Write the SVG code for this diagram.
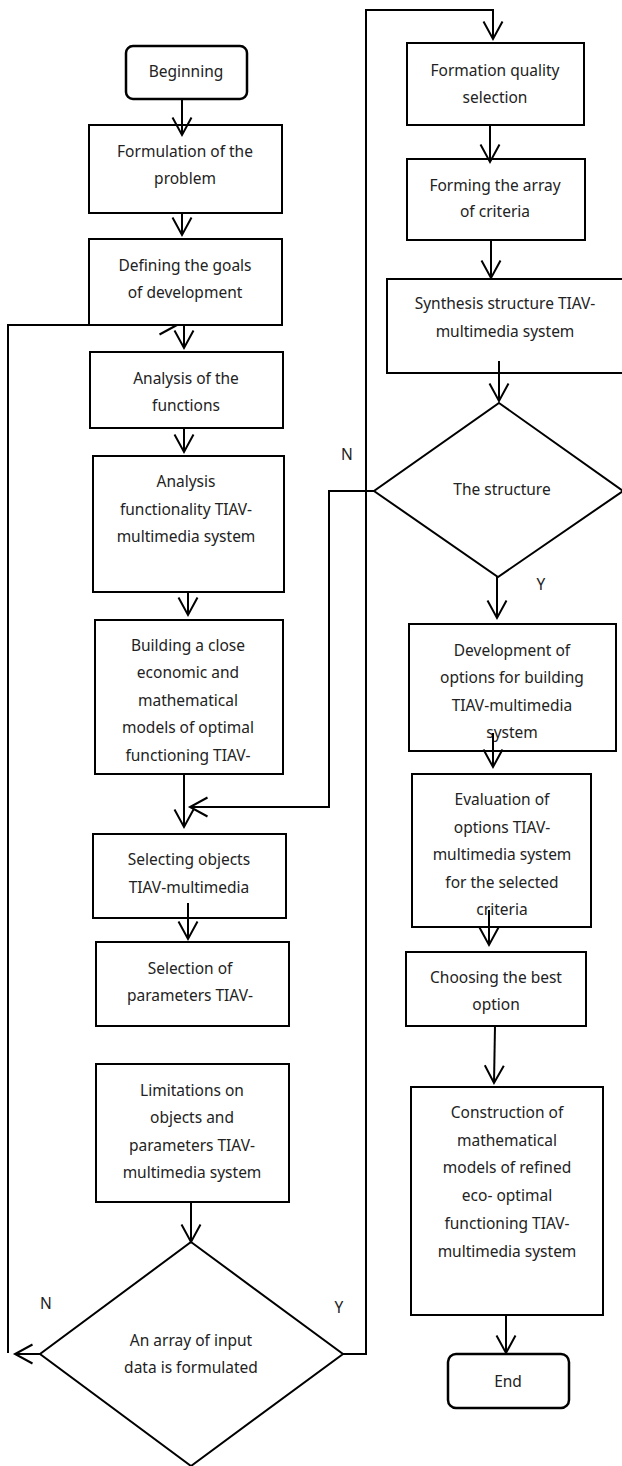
<svg xmlns="http://www.w3.org/2000/svg" width="622" height="1466" viewBox="0 0 622 1466">
<style>
.box{fill:#fff;stroke:#000;stroke-width:2}
.term{fill:#fff;stroke:#000;stroke-width:2.5}
.lbl{font-family:"Noto Sans","Liberation Sans",sans-serif;font-size:15.5px;fill:#222;text-anchor:middle}
.con{fill:none;stroke:#000;stroke-width:2}
</style>
<defs>
<marker id="arr" markerUnits="userSpaceOnUse" viewBox="-20 -12 22 24" markerWidth="22" markerHeight="24" refX="0" refY="0" orient="auto" overflow="visible">
<path d="M-17.5,-9.5 L0,0 L-17.5,9.5" fill="none" stroke="#000" stroke-width="2"/>
</marker>
</defs>
<rect width="622" height="1466" fill="#fff"/>

<g id="n-begin"><rect class="term" x="126" y="46" width="121" height="53" rx="7"/><text class="lbl" x="186" y="77">Beginning</text></g>
<g id="n-formulation"><rect class="box" x="89" y="125" width="193" height="88"/><text class="lbl"><tspan x="185" y="157">Formulation of the</tspan><tspan x="185" y="184">problem</tspan></text></g>
<g id="n-defining"><rect class="box" x="89" y="239" width="193" height="86"/><text class="lbl"><tspan x="185" y="271">Defining the goals</tspan><tspan x="185" y="298">of development</tspan></text></g>
<g id="n-analysis-func"><rect class="box" x="90" y="352" width="193" height="76"/><text class="lbl"><tspan x="186" y="384">Analysis of the</tspan><tspan x="186" y="411">functions</tspan></text></g>
<g id="n-functionality"><rect class="box" x="93" y="456" width="191" height="136"/><text class="lbl"><tspan x="186" y="487">Analysis</tspan><tspan x="186" y="515">functionality TIAV-</tspan><tspan x="186" y="542">multimedia system</tspan></text></g>
<g id="n-building"><rect class="box" x="95" y="620" width="188" height="154"/><text class="lbl"><tspan x="188" y="651">Building a close</tspan><tspan x="188" y="678">economic and</tspan><tspan x="188" y="706">mathematical</tspan><tspan x="188" y="733">models of optimal</tspan><tspan x="188" y="761">functioning TIAV-</tspan></text></g>
<g id="n-selecting"><rect class="box" x="93" y="834" width="193" height="84"/><text class="lbl"><tspan x="189" y="865">Selecting objects</tspan><tspan x="189" y="893">TIAV-multimedia</tspan></text></g>
<g id="n-selection"><rect class="box" x="96" y="942" width="193" height="84"/><text class="lbl"><tspan x="190" y="974">Selection of</tspan><tspan x="190" y="1001">parameters TIAV-</tspan></text></g>
<g id="n-limitations"><rect class="box" x="96" y="1064" width="193" height="138"/><text class="lbl"><tspan x="192" y="1096">Limitations on</tspan><tspan x="192" y="1123">objects and</tspan><tspan x="192" y="1151">parameters TIAV-</tspan><tspan x="192" y="1178">multimedia system</tspan></text></g>
<g id="n-input-dec"><polygon class="box" points="191,1242 343,1354 191,1466 40,1354"/><text class="lbl"><tspan x="191" y="1346">An array of input</tspan><tspan x="191" y="1373">data is formulated</tspan></text></g>

<g id="n-formation"><rect class="box" x="407" y="43" width="177" height="82"/><text class="lbl"><tspan x="495" y="76">Formation quality</tspan><tspan x="495" y="103">selection</tspan></text></g>
<g id="n-forming"><rect class="box" x="407" y="159" width="178" height="81"/><text class="lbl"><tspan x="495" y="191">Forming the array</tspan><tspan x="495" y="217">of criteria</tspan></text></g>
<g id="n-synthesis"><rect class="box" x="387" y="279" width="245" height="94"/><text class="lbl"><tspan x="505" y="309">Synthesis structure TIAV-</tspan><tspan x="505" y="337">multimedia system</tspan></text></g>
<g id="n-structure-dec"><polygon class="box" points="499,403 623,491 498,577 374,491"/><text class="lbl" x="502" y="495">The structure</text></g>
<g id="n-development"><rect class="box" x="409" y="624" width="207" height="127"/><text class="lbl"><tspan x="512" y="656">Development of</tspan><tspan x="512" y="683">options for building</tspan><tspan x="512" y="711">TIAV-multimedia</tspan><tspan x="512" y="738">system</tspan></text></g>
<g id="n-evaluation"><rect class="box" x="412" y="774" width="179" height="153"/><text class="lbl"><tspan x="502" y="805">Evaluation of</tspan><tspan x="502" y="833">options TIAV-</tspan><tspan x="502" y="860">multimedia system</tspan><tspan x="502" y="888">for the selected</tspan><tspan x="502" y="915">criteria</tspan></text></g>
<g id="n-choosing"><rect class="box" x="406" y="952" width="180" height="74"/><text class="lbl"><tspan x="496" y="983">Choosing the best</tspan><tspan x="496" y="1010">option</tspan></text></g>
<g id="n-construction"><rect class="box" x="411" y="1087" width="192" height="228"/><text class="lbl"><tspan x="507" y="1118">Construction of</tspan><tspan x="507" y="1146">mathematical</tspan><tspan x="507" y="1173">models of refined</tspan><tspan x="507" y="1201">eco- optimal</tspan><tspan x="507" y="1229">functioning TIAV-</tspan><tspan x="507" y="1257">multimedia system</tspan></text></g>
<g id="n-end"><rect class="term" x="448" y="1354" width="121" height="54" rx="8"/><text class="lbl" x="508" y="1387">End</text></g>

<g id="connectors">
<path class="con" d="M182,100 V135" marker-end="url(#arr)"/>
<path class="con" d="M182,213 V235" marker-end="url(#arr)"/>
<path class="con" d="M8,1353 V325 H177"/>
<path class="con" d="M159.5,334.5 L177,325"/>
<path class="con" d="M184,325 V348" marker-end="url(#arr)"/>
<path class="con" d="M184,428 V452" marker-end="url(#arr)"/>
<path class="con" d="M188,591 V615" marker-end="url(#arr)"/>
<path class="con" d="M184,774 V827" marker-end="url(#arr)"/>
<path class="con" d="M188,903 V939" marker-end="url(#arr)"/>
<path class="con" d="M191,1202 V1242" marker-end="url(#arr)"/>
<path class="con" d="M40,1354 H15" marker-end="url(#arr)"/>
<path class="con" d="M343,1354 H366 V10 H493 V39" marker-end="url(#arr)"/>
<path class="con" d="M490,125 V162" marker-end="url(#arr)"/>
<path class="con" d="M491,240 V278" marker-end="url(#arr)"/>
<path class="con" d="M499,361 V401" marker-end="url(#arr)"/>
<path class="con" d="M374,491 H329 V807 H190" marker-end="url(#arr)"/>
<path class="con" d="M497,577 V618" marker-end="url(#arr)"/>
<path class="con" d="M493,733 V767" marker-end="url(#arr)"/>
<path class="con" d="M489,910 V945" marker-end="url(#arr)"/>
<path class="con" d="M495,1026 L494,1083" marker-end="url(#arr)"/>
<path class="con" d="M506,1315 V1353" marker-end="url(#arr)"/>
<text class="lbl" x="347" y="460">N</text>
<text class="lbl" x="541" y="590">Y</text>
<text class="lbl" x="46" y="1309">N</text>
<text class="lbl" x="339" y="1313">Y</text>
</g>
</svg>
